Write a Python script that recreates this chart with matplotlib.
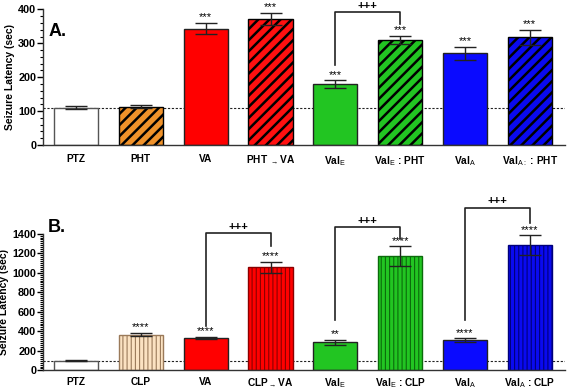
import matplotlib
matplotlib.use('Agg')
import matplotlib.pyplot as plt
from matplotlib.ticker import AutoMinorLocator, MultipleLocator

plt.rcParams['font.family'] = ['Liberation Sans', 'DejaVu Sans']
plt.rcParams['mathtext.fontset'] = 'custom'
plt.rcParams['mathtext.rm'] = 'Liberation Sans'
plt.rcParams['mathtext.bf'] = 'Liberation Sans:bold'
plt.rcParams['hatch.linewidth'] = 1.8

# panel A data
labels_a = ['PTZ', 'PHT', 'VA', r'PHT $_{\rightarrow}$VA', r'Val$\mathrm{_E}$',
            r'Val$\mathrm{_E}$ : PHT', r'Val$\mathrm{_A}$', r'Val$\mathrm{_{A:}}$ : PHT']
vals_a = [110, 113, 343, 371, 179, 309, 270, 318]
err_a = [5, 5, 17, 18, 12, 12, 20, 22]
stars_a = ['', '', '***', '***', '***', '***', '***', '***']
colors_a = ['white', '#f0922a', '#ff0000', '#ff1010', '#22c522', '#22c522', '#0a0aff', '#0a0af0']
hatch_a = ['', '///', '', '///', '', '///', '', '///']
# bracket: left bar, right bar, top, left leg end, right leg end
brackets_a = [(4, 5, 392, 235, 356)]
baseline_a = 110

# panel B data
labels_b = ['PTZ', 'CLP', 'VA', r'CLP$_{\rightarrow}$VA', r'Val$\mathrm{_E}$',
            r'Val$\mathrm{_E}$ : CLP', r'Val$\mathrm{_A}$', r'Val$\mathrm{_A}$ : CLP']
vals_b = [100, 367, 331, 1055, 287, 1169, 307, 1283]
err_b = [3, 15, 12, 55, 25, 100, 20, 100]
stars_b = ['', '****', '****', '****', '**', '****', '****', '****']
colors_b = ['white', '#fbe2c2', '#ff0000', '#ff0000', '#22c522', '#22c522', '#0a0aff', '#0a0af0']
lines_b = ['#555555', '#9a7a5a', '#222222', '#8a0000', '#222222', '#0b6b0b', '#222222', '#00007a']
hatch_b = ['', '||||', '', '||||', '', '||||', '', '||||']
brackets_b = [(2, 3, 1404, 457, 1277), (4, 5, 1464, 515, 1345), (6, 7, 1665, 515, 1505)]
baseline_b = 100

fig = plt.figure(figsize=(5.67, 3.92), dpi=100)
ax_a = fig.add_axes([0.076, 0.630, 0.921, 0.346])
ax_b = fig.add_axes([0.076, 0.055, 0.921, 0.349])


def draw_panel(ax, vals, errs, colors, hatches, edges, stars, brackets, base, labels, pad):
    x = range(len(vals))
    for i in x:
        b = ax.bar(i, vals[i], width=0.68, color=colors[i], edgecolor=edges[i],
                   hatch=hatches[i], linewidth=1.0, zorder=2)
        if hatches[i] == '||||':
            for p in b:
                if hasattr(p, 'set_hatch_linewidth'):
                    p.set_hatch_linewidth(0.8)
    ax.errorbar(list(x), vals, yerr=errs, fmt='none', ecolor='#222222',
                elinewidth=1.0, capsize=8, capthick=1.0, zorder=3)
    for i in x:
        if stars[i]:
            ax.annotate(stars[i], (i, vals[i] + errs[i]), xytext=(0, 0.5),
                        textcoords='offset points', ha='center', va='bottom',
                        fontsize=8, zorder=4)
    for l, r, top, yl, yr in brackets:
        ax.plot([l, l, r, r], [yl, top, top, yr], color='#222222', lw=1.2,
                clip_on=False, zorder=4)
        ax.annotate('+++', ((l + r) / 2, top), xytext=(0, 1), textcoords='offset points',
                    ha='center', va='bottom', fontsize=8, fontweight='bold',
                    annotation_clip=False)
    ax.axhline(base, color='#222222', lw=0.8, ls=(0, (2, 1.5)), zorder=1)
    ax.set_xlim(-0.51, 7.55)
    ax.set_xticks(list(x))
    ax.set_xticklabels(labels, fontsize=7.3, fontweight='bold')
    ax.tick_params(axis='x', length=0, pad=pad)
    ax.tick_params(axis='y', labelsize=7.8, length=4, width=1.0, pad=1)
    ax.tick_params(axis='y', which='minor', length=2, width=0.8)
    for t in ax.get_yticklabels():
        t.set_fontweight('bold')
    ax.spines['top'].set_visible(False)
    ax.spines['right'].set_visible(False)
    ax.spines['left'].set_linewidth(1.0)
    ax.spines['bottom'].set_linewidth(1.0)
    ax.spines['left'].set_color('#333333')
    ax.spines['bottom'].set_color('#333333')
    ax.set_ylabel('Seizure Latency (sec)', fontsize=7.5, fontweight='bold', labelpad=2)


edges_a = ['#555555', 'black', '#222222', 'black', '#222222', 'black', '#222222', 'black']
ax_a.set_ylim(0, 400)
ax_a.yaxis.set_major_locator(MultipleLocator(100))
ax_a.yaxis.set_minor_locator(AutoMinorLocator(5))
draw_panel(ax_a, vals_a, err_a, colors_a, hatch_a, edges_a, stars_a, brackets_a,
           baseline_a, labels_a, 6.5)

ax_b.set_ylim(0, 1400)
ax_b.yaxis.set_major_locator(MultipleLocator(200))
ax_b.yaxis.set_minor_locator(AutoMinorLocator(10))
draw_panel(ax_b, vals_b, err_b, colors_b, hatch_b, lines_b, stars_b, brackets_b,
           baseline_b, labels_b, 4.5)

fig.text(0.085, 1 - 32 / 392, 'A.', fontsize=13, fontweight='bold', va='center')
fig.text(0.085, 1 - 228 / 392, 'B.', fontsize=13, fontweight='bold', va='center')

fig.savefig('out.png', dpi=100)
